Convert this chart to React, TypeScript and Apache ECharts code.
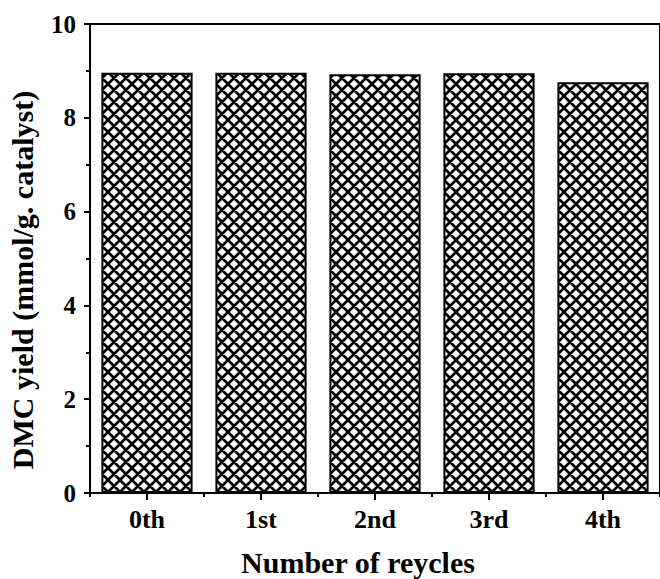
import React, { useEffect, useRef } from "react";
import * as echarts from "echarts";

const categories = ["0th", "1st", "2nd", "3rd", "4th"];
const yieldValues = [8.96, 8.96, 8.93, 8.95, 8.76];
const yTitle = "DMC yield (mmol/g. catalyst)";
const xTitle = "Number of reycles";

const FONT = "'Liberation Serif', 'Times New Roman', serif";

const P = 12.4;
const e = 2;
const hatchPath = [
  `M${-e} ${-e}L${P + e} ${P + e}`,
  `M${-e} ${P - e}L${e} ${P + e}`,
  `M${P - e} ${-e}L${P + e} ${e}`,
  `M${P + e} ${-e}L${-e} ${P + e}`,
  `M${e} ${-e}L${-e} ${e}`,
  `M${P + e} ${P - e}L${P - e} ${P + e}`,
].join("");
const hatchSvg =
  `<svg xmlns='http://www.w3.org/2000/svg' width='${P}' height='${P}' viewBox='0 0 ${P} ${P}'>` +
  `<rect width='${P}' height='${P}' fill='white'/>` +
  `<path d='${hatchPath}' stroke='black' stroke-width='2.8' fill='none'/>` +
  "</svg>";
const hatchUrl = "data:image/svg+xml;charset=utf-8," + encodeURIComponent(hatchSvg);

export default function App() {
  const ref = useRef<HTMLDivElement>(null);
  useEffect(() => {
    if (!ref.current) return;
    const chart = echarts.init(ref.current, null, { renderer: "svg" });
    chart.setOption({
      animation: false,
      backgroundColor: "#ffffff",
      grid: {
        left: 90,
        right: -6,
        top: 24,
        bottom: 86,
        show: true,
        borderColor: "#000",
        borderWidth: 2,
        backgroundColor: "transparent",
      },
      xAxis: [
        {
          type: "category",
          data: categories,
          position: "bottom",
          axisLine: { show: true, lineStyle: { color: "#000", width: 2 } },
          axisTick: { show: true, alignWithLabel: true, length: 7, lineStyle: { color: "#000", width: 2 } },
          axisLabel: {
            color: "#000",
            fontFamily: FONT,
            fontWeight: "bold",
            fontSize: 26,
            margin: 13,
          },
          splitLine: { show: false },
        },
        {
          type: "category",
          data: categories,
          position: "bottom",
          axisLine: { show: false },
          axisTick: { show: true, length: 4, lineStyle: { color: "#000", width: 2 } },
          axisLabel: { show: false },
          splitLine: { show: false },
        },
      ],
      yAxis: {
        type: "value",
        min: 0,
        max: 10,
        interval: 2,
        axisLine: { show: true, lineStyle: { color: "#000", width: 2 } },
        axisTick: { show: true, length: 6, lineStyle: { color: "#000", width: 2 } },
        minorTick: { show: true, splitNumber: 2, length: 4, lineStyle: { color: "#000", width: 2 } },
        axisLabel: {
          color: "#000",
          fontFamily: FONT,
          fontWeight: "bold",
          fontSize: 25,
          margin: 14,
        },
        splitLine: { show: false },
      },
      graphic: [
        {
          type: "text",
          x: 22,
          y: 280,
          rotation: Math.PI / 2,
          style: {
            text: yTitle,
            fill: "#000",
            font: `bold 30px ${FONT}`,
            textAlign: "center",
            textVerticalAlign: "middle",
          },
        },
        {
          type: "text",
          x: 358,
          y: 562,
          style: {
            text: xTitle,
            fill: "#000",
            font: `bold 30px ${FONT}`,
            textAlign: "center",
            textVerticalAlign: "middle",
          },
        },
      ],
      series: [
        {
          type: "bar",
          data: yieldValues,
          barWidth: "80%",
          itemStyle: {
            color: { image: hatchUrl, repeat: "repeat" },
            borderColor: "#000",
            borderWidth: 2,
          },
        },
      ],
    });
    return () => chart.dispose();
  }, []);
  return <div ref={ref} style={{ width: 660, height: 579, position: "absolute", left: 0, top: 0 }} />;
}
